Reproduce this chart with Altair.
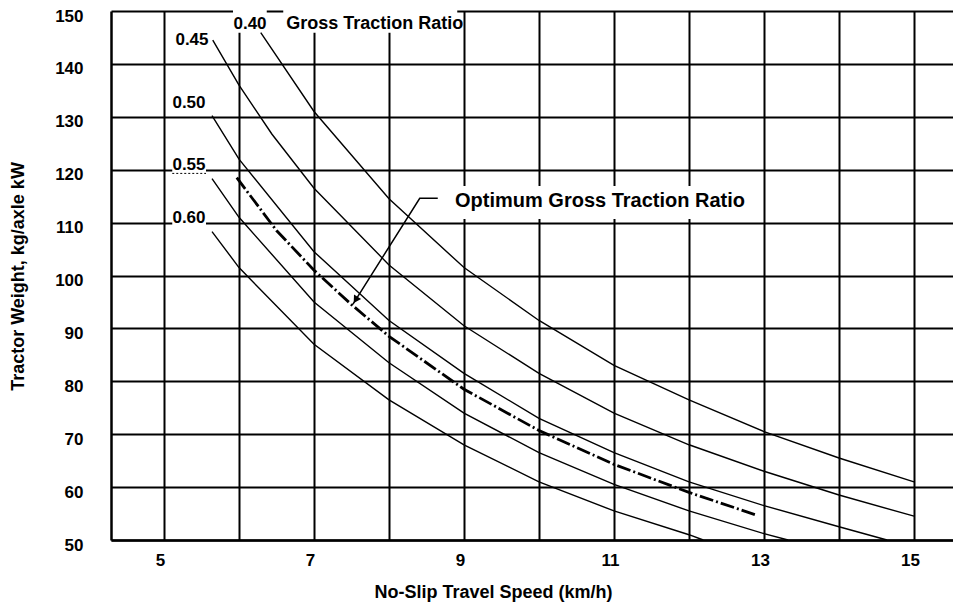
import altair as alt
import pandas as pd

FONT = "Liberation Sans"

# ---- curve data (x = km/h, y = kg/axle kW) ----
x_040 = [6.29, 7, 8, 9, 10, 11, 12, 13, 14, 15]
y_040 = [145.9, 131.0, 114.5, 101.5, 91.5, 83.0, 76.5, 70.5, 65.5, 61.0]

x_045 = [5.65, 6, 6.44, 7, 8, 9, 10, 11, 12, 13, 14, 15]
y_045 = [144.5, 136.0, 126.7, 116.5, 102.0, 90.5, 81.5, 74.0, 68.0, 63.0, 58.5, 54.5]

x_050 = [5.64, 6, 7, 8, 9, 10, 11, 12, 13, 14, 14.64]
y_050 = [130.2, 122.0, 104.5, 91.5, 81.5, 73.0, 66.5, 61.0, 56.5, 52.5, 50.0]

x_055 = [5.64, 6, 7, 8, 9, 10, 11, 12, 13, 13.32]
y_055 = [118.3, 111.0, 95.0, 83.5, 74.0, 66.5, 60.5, 55.5, 51.2, 50.0]

x_060 = [5.64, 6, 7, 8, 9, 10, 11, 12, 12.19]
y_060 = [108.3, 101.5, 87.0, 76.5, 68.0, 61.0, 55.5, 51.0, 50.0]

x_opt = [5.97, 6.5, 7, 7.5, 8, 9, 10, 11, 12, 12.88]
y_opt = [118.5, 108.5, 101.0, 94.5, 88.5, 78.5, 70.7, 64.3, 59.0, 54.8]

# ---- annotation texts ----
curve_labels = ["0.40", "0.45", "0.50", "0.55", "0.60"]
curve_label_x = [6.147, 5.373, 5.333, 5.333, 5.333]
curve_label_y = [147.6, 144.6, 132.6, 120.9, 110.9]

title_texts = ["Gross Traction Ratio", "Optimum Gross Traction Ratio"]
title_x = [6.63, 8.88]
title_y = [147.6, 114.1]
title_size = [18, 20]

# white label backgrounds
box_x1 = [5.92, 6.59, 5.11, 5.11, 8.79]
box_x2 = [6.37, 8.91, 5.56, 5.56, 12.9]
box_y1 = [145.9, 145.9, 119.3, 109.3, 110.7]
box_y2 = [150.6, 150.6, 122.5, 112.8, 116.9]

# leader arrow
arrow_x = [8.65, 8.41, 7.52]
arrow_y = [114.6, 114.6, 94.6]
head_x = [7.555]
head_y = [95.4]

# dotted underline under 0.55
under_x = [5.11, 5.56]
under_y = [119.3, 119.3]

x_ticks = list(range(5, 16))
y_ticks = list(range(50, 151, 10))

# ---- tables ----
rows = []
for lab, xs, ys in [("0.40", x_040, y_040), ("0.45", x_045, y_045), ("0.50", x_050, y_050),
                    ("0.55", x_055, y_055), ("0.60", x_060, y_060)]:
    for i, (a, b) in enumerate(zip(xs, ys)):
        rows.append({"x": a, "y": b, "ratio": lab, "order": i})
curves = pd.DataFrame(rows)
opt = pd.DataFrame({"x": x_opt, "y": y_opt, "order": range(len(x_opt))})
clabels = pd.DataFrame({"x": curve_label_x, "y": curve_label_y, "t": curve_labels})
tlabels = pd.DataFrame({"x": title_x, "y": title_y, "t": title_texts, "s": title_size})
boxes = pd.DataFrame({"x": box_x1, "x2": box_x2, "y": box_y1, "y2": box_y2})
arrow = pd.DataFrame({"x": arrow_x, "y": arrow_y, "order": range(3)})
head = pd.DataFrame({"x": head_x, "y": head_y})
under = pd.DataFrame({"x": under_x, "y": under_y})

xscale = alt.Scale(domain=[4.2933, 15.52], nice=False, zero=False)
yscale = alt.Scale(domain=[50, 150], nice=False, zero=False)

xaxis = alt.Axis(values=x_ticks, labelExpr="datum.value % 2 == 1 ? datum.label : ''",
                 grid=True, gridColor="black", gridWidth=2, gridOpacity=1,
                 ticks=False, domainColor="black", domainWidth=2.5,
                 labelFont=FONT, labelFontSize=17, labelFontWeight="bold", labelColor="black",
                 labelPadding=12, labelOffset=-4, labelOverlap=False, labelFlush=False,
                 title="No-Slip Travel Speed (km/h)", titleFont=FONT, titleFontSize=18,
                 titleFontWeight="bold", titleColor="black", titleX=382, titleY=52,
                 titleAlign="center", titleBaseline="middle")
yaxis = alt.Axis(values=y_ticks, grid=True, gridColor="black", gridWidth=2, gridOpacity=1,
                 ticks=False, domainColor="black", domainWidth=2.5,
                 labelFont=FONT, labelFontSize=17, labelFontWeight="bold", labelColor="black",
                 labelPadding=28, labelOffset=5, labelOverlap=False, labelFlush=False,
                 title="Tractor Weight, kg/axle kW", titleFont=FONT, titleFontSize=18,
                 titleFontWeight="bold", titleColor="black", titleX=-93, titleY=265,
                 titleAngle=270, titleAlign="center", titleBaseline="middle")


def X(f="x"):
    return alt.X(f, type="quantitative", scale=xscale, axis=xaxis)


def Y(f="y"):
    return alt.Y(f, type="quantitative", scale=yscale, axis=yaxis)


box_layer = alt.Chart(boxes).mark_rect(color="white", opacity=1).encode(
    x=X(), x2="x2", y=Y(), y2="y2")

curve_layer = alt.Chart(curves).mark_line(color="black", strokeWidth=1.4).encode(
    x=X(), y=Y(), detail="ratio:N", order="order:Q")

opt_layer = alt.Chart(opt).mark_line(color="black", strokeWidth=2.8,
                                     strokeDash=[14, 3, 2, 3]).encode(
    x=X(), y=Y(), order="order:Q")

arrow_layer = alt.Chart(arrow).mark_line(color="black", strokeWidth=1.5).encode(
    x=X(), y=Y(), order="order:Q")

head_layer = alt.Chart(head).mark_point(shape="triangle-up", filled=True, color="black",
                                        size=70, angle=212, opacity=1).encode(
    x=X(), y=Y())

under_layer = alt.Chart(under).mark_line(color="black", strokeWidth=1,
                                         strokeDash=[2, 2]).encode(x=X(), y=Y())

clabel_layer = alt.Chart(clabels).mark_text(font=FONT, fontSize=17, fontWeight="bold",
                                            color="black", align="center",
                                            baseline="middle").encode(
    x=X(), y=Y(), text="t:N")

tlabel_layer = alt.Chart(tlabels).mark_text(font=FONT, fontWeight="bold", color="black",
                                            align="left", baseline="middle").encode(
    x=X(), y=Y(), text="t:N", size=alt.Size("s:Q", scale=None, legend=None))

chart = alt.layer(box_layer, curve_layer, opt_layer, arrow_layer, head_layer, under_layer,
                  clabel_layer, tlabel_layer).properties(
    width=842, height=529,
    padding={"left": 103, "top": 3, "right": 0, "bottom": 62},
    autosize=alt.AutoSizeParams(type="none"),
    background="white",
).configure_view(stroke=None)

chart.save("out.html", embed_options={"renderer": "svg", "actions": False})
